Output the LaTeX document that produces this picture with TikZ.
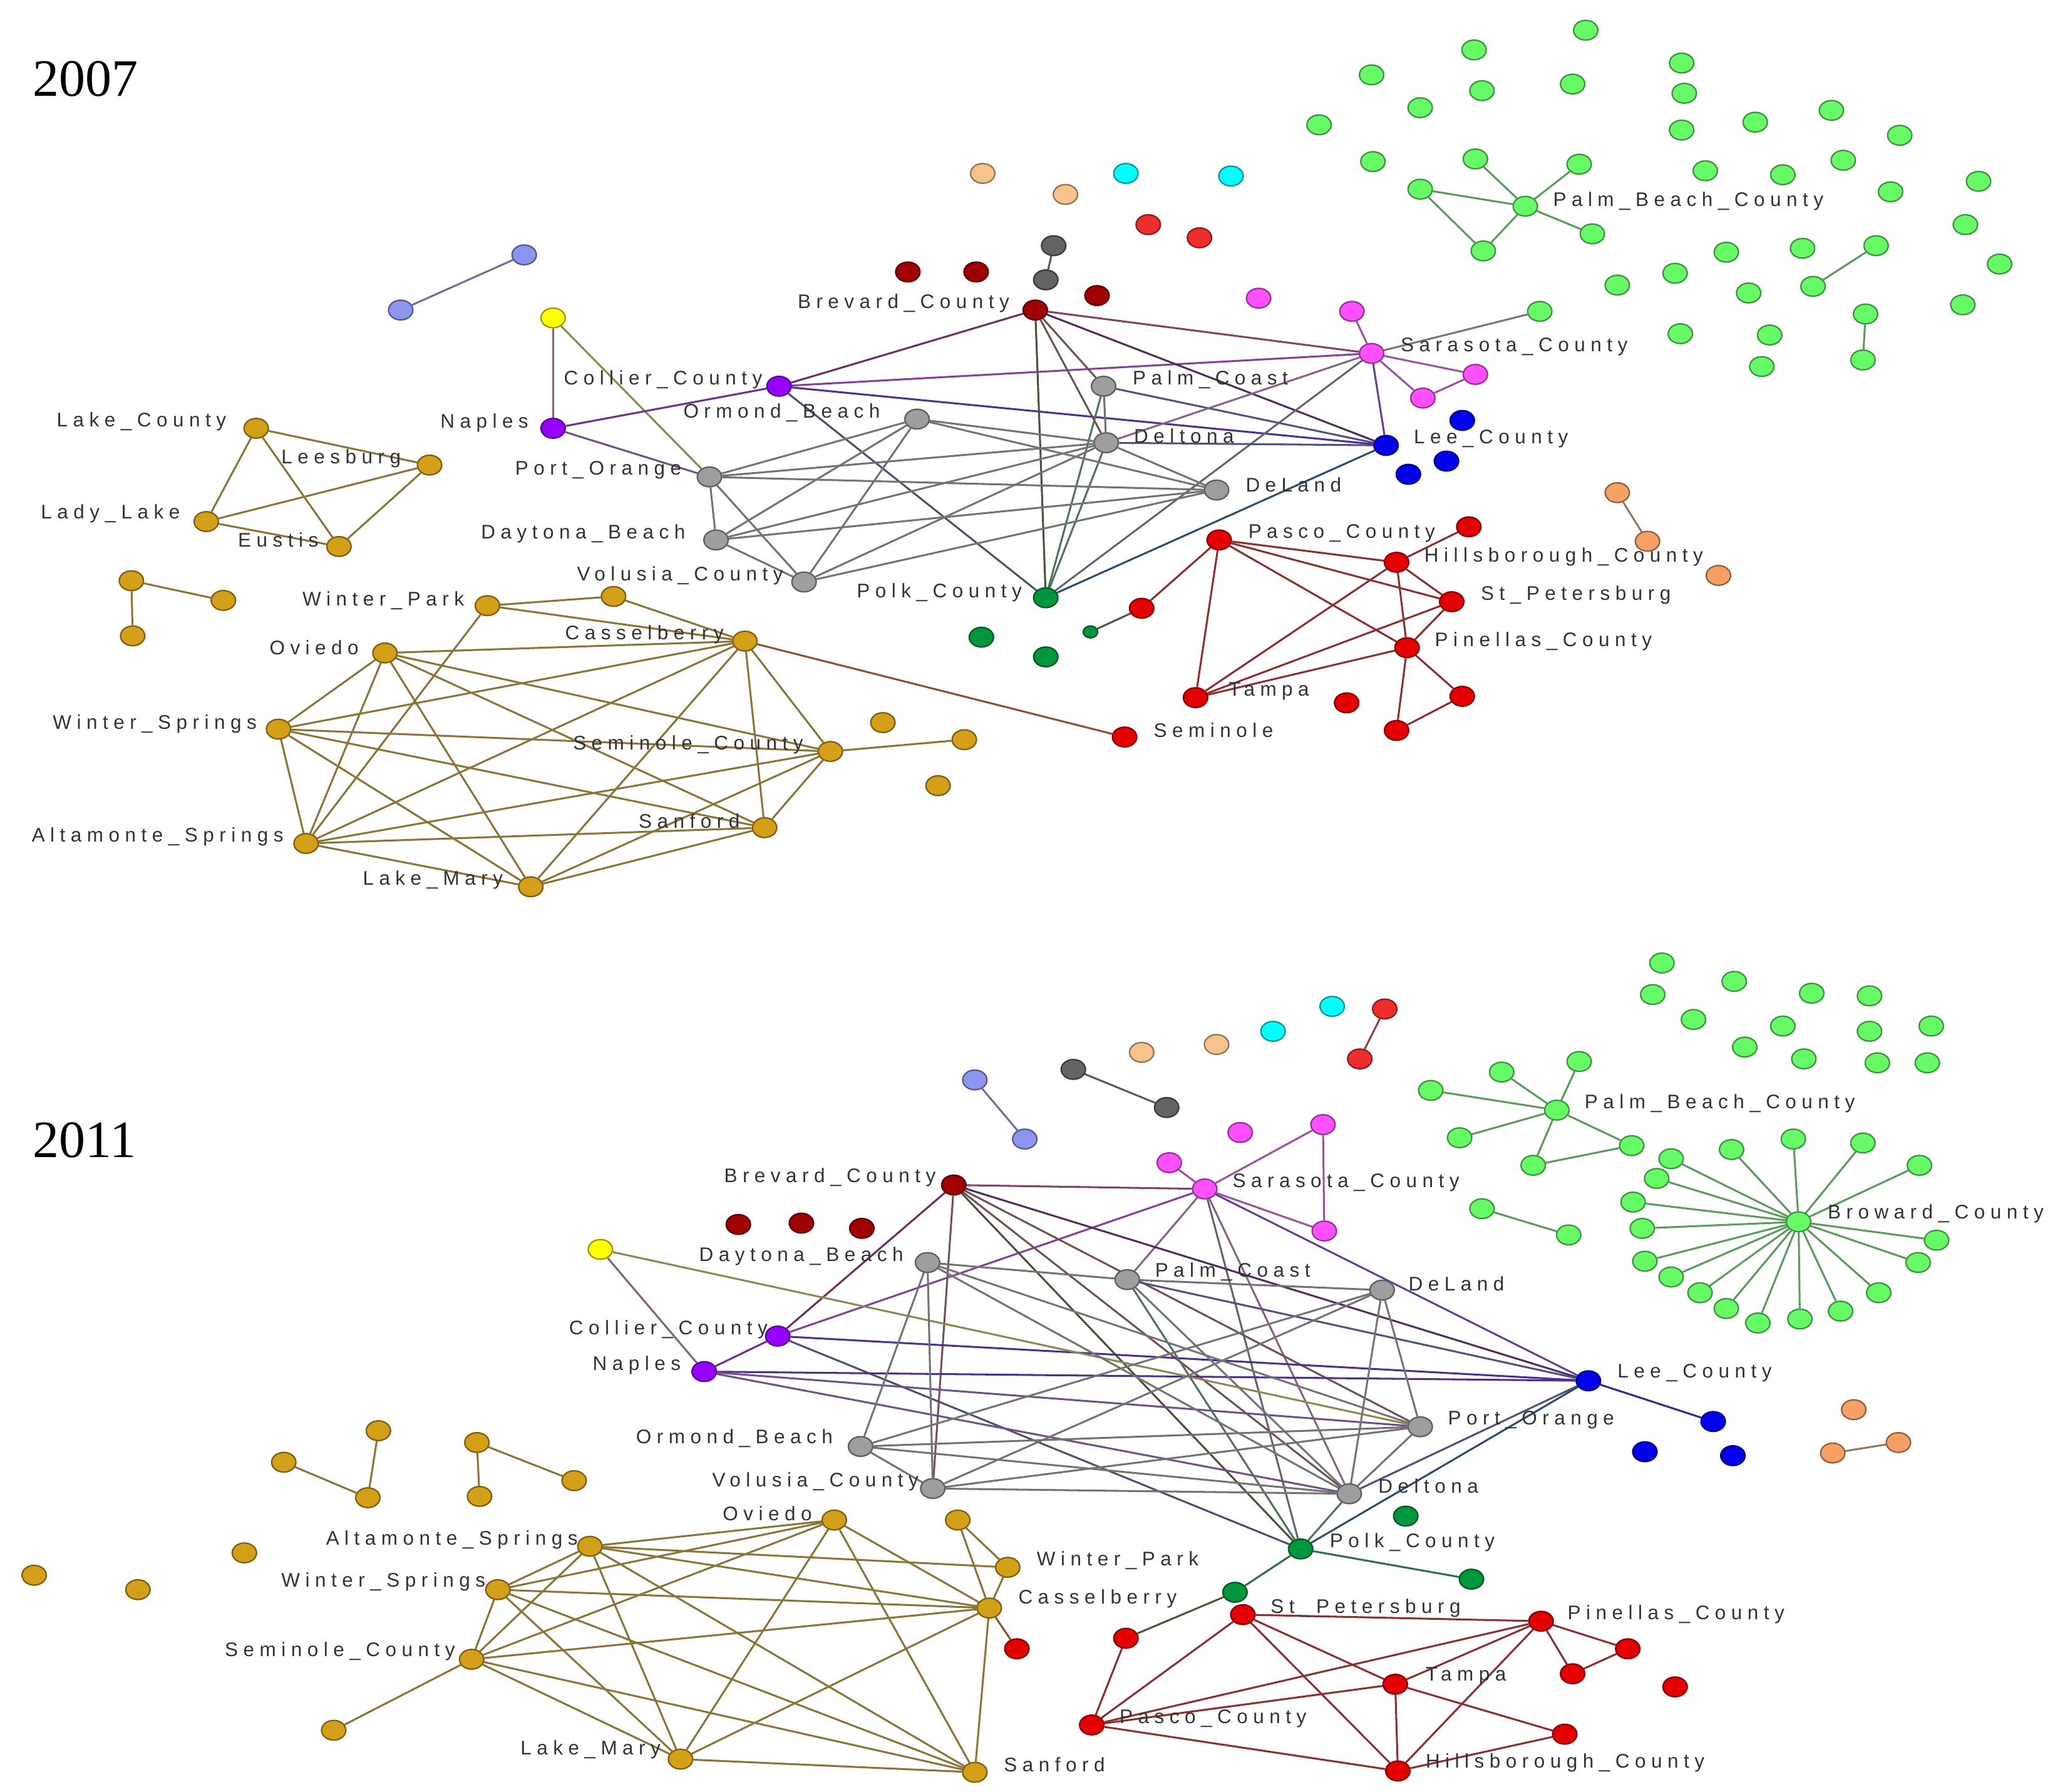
\documentclass[tikz,border=0pt]{standalone}
\usepackage{fontspec}
\usetikzlibrary{shapes.geometric}
\newfontfamily\lblfont[LetterSpace=27]{Liberation Sans}
\newfontfamily\ttlfont{Liberation Serif}
\definecolor{cLG}{RGB}{102,250,102}
\definecolor{cGold}{RGB}{212,160,23}
\definecolor{cGray}{RGB}{158,158,158}
\definecolor{cDGray}{RGB}{100,100,100}
\definecolor{cMaroon}{RGB}{160,0,0}
\definecolor{cRed}{RGB}{228,0,0}
\definecolor{cBRed}{RGB}{240,45,45}
\definecolor{cMag}{RGB}{255,80,255}
\definecolor{cPurp}{RGB}{150,0,255}
\definecolor{cBlue}{RGB}{0,0,235}
\definecolor{cYel}{RGB}{255,255,0}
\definecolor{cLav}{RGB}{140,150,240}
\definecolor{cPeach}{RGB}{245,195,140}
\definecolor{cCyan}{RGB}{0,255,255}
\definecolor{cSalm}{RGB}{245,160,100}
\definecolor{cDGreen}{RGB}{0,150,60}
\definecolor{cEB}{RGB}{80,80,80}
\pgfdeclarelayer{bglayer}
\pgfdeclarelayer{edgelayer}
\pgfsetlayers{bglayer,edgelayer,main}
\tikzset{
  vtx/.style={shape=ellipse, minimum width=18.5pt, minimum height=15pt, inner sep=0pt,
    fill=#1, draw=#1!60!black, line width=1.1pt},
  edge/.style={line width=1.45pt},
  lbl/.style={anchor=west, inner sep=0pt, text=black!80,
    font=\lblfont\fontsize{15}{17}\selectfont},
  ttl/.style={anchor=west, inner sep=0pt, text=black,
    font=\ttlfont\fontsize{40}{44}\selectfont},
}
\newcommand\nd[4]{\expandafter\gdef\csname nc#1\endcsname{#4}\node[vtx=#4] (#1) at (#2,#3) {};}
\newcommand\lk[2]{\edef\tmplk{\noexpand\colorlet{edgecol}{\csname nc#1\endcsname!50!\csname nc#2\endcsname!45!cEB}}\tmplk
  \draw[edge,draw=edgecol] (#1) -- (#2);}
\newcommand\lb[4]{\node[lbl] (#1) at (#2,#3) {#4};}
\begin{document}
\begin{tikzpicture}[x=1pt,y=-1pt]
\begin{pgfonlayer}{bglayer}
\fill[white] (0,0) rectangle (1568,1364);
\end{pgfonlayer}
\useasboundingbox (0,0) rectangle (1568,1364);
\node[ttl] (t07) at (25,60) {2007};
\node[ttl] (t11) at (25,868) {2011};
% ================= 2007 nodes =================
\nd{aG1}{1207}{23}{cLG}\nd{aG2}{1122}{38}{cLG}\nd{aG3}{1280}{48}{cLG}\nd{aG4}{1044}{57}{cLG}
\nd{aG5}{1197}{64}{cLG}\nd{aG6}{1128}{69}{cLG}\nd{aG7}{1282}{71}{cLG}\nd{aG8}{1081}{82}{cLG}
\nd{aG9}{1004}{95}{cLG}\nd{aG10}{1280}{99}{cLG}\nd{aG11}{1336}{93}{cLG}\nd{aG12}{1394}{84}{cLG}
\nd{aG13}{1446}{103}{cLG}\nd{aG14}{1045}{123}{cLG}\nd{aG15}{1123}{121}{cLG}\nd{aG16}{1202}{125}{cLG}
\nd{aG17}{1298}{130}{cLG}\nd{aG18}{1357}{133}{cLG}\nd{aG19}{1403}{122}{cLG}\nd{aG20}{1506}{138}{cLG}
\nd{aG21}{1081}{144}{cLG}\nd{aPBC}{1161}{157}{cLG}\nd{aG23}{1439}{146}{cLG}\nd{aG24}{1212}{178}{cLG}
\nd{aG25}{1129}{191}{cLG}\nd{aG26}{1496}{171}{cLG}\nd{aG27}{1314}{192}{cLG}\nd{aG28}{1372}{189}{cLG}
\nd{aG29}{1428}{187}{cLG}\nd{aG30}{1275}{208}{cLG}\nd{aG31}{1231}{217}{cLG}\nd{aG32}{1331}{223}{cLG}
\nd{aG33}{1380}{218}{cLG}\nd{aG34}{1522}{201}{cLG}\nd{aG35}{1172}{237}{cLG}\nd{aG36}{1420}{239}{cLG}
\nd{aG37}{1494}{232}{cLG}\nd{aG38}{1279}{254}{cLG}\nd{aG39}{1347}{255}{cLG}\nd{aG40}{1418}{274}{cLG}
\nd{aG41}{1341}{279}{cLG}
\nd{aPe1}{748}{132}{cPeach}\nd{aPe2}{811}{148}{cPeach}
\nd{aCy1}{857}{132}{cCyan}\nd{aCy2}{937}{134}{cCyan}
\nd{aBR1}{874}{171}{cBRed}\nd{aBR2}{913}{181}{cBRed}
\nd{aDG1}{802}{187}{cDGray}\nd{aDG2}{796}{213}{cDGray}
\nd{aM1}{691}{207}{cMaroon}\nd{aM2}{743}{207}{cMaroon}\nd{aM3}{835}{225}{cMaroon}
\nd{aLv1}{399}{194}{cLav}\nd{aLv2}{305}{236}{cLav}
\nd{aYel}{421}{242}{cYel}
\nd{aBrev}{788}{236}{cMaroon}
\nd{aMg1}{958}{227}{cMag}\nd{aMg2}{1029}{237}{cMag}\nd{aSar}{1044}{269}{cMag}
\nd{aMg3}{1123}{285}{cMag}\nd{aMg4}{1083}{303}{cMag}
\nd{aCol}{593}{294}{cPurp}\nd{aNap}{421}{326}{cPurp}
\nd{aPC}{840}{294}{cGray}\nd{aOB}{698}{319}{cGray}\nd{aDelt}{842}{337}{cGray}
\nd{aPO}{540}{363}{cGray}\nd{aDeL}{926}{373}{cGray}\nd{aDB}{545}{411}{cGray}\nd{aVol}{612}{443}{cGray}
\nd{aLee}{1055}{339}{cBlue}\nd{aBl1}{1113}{320}{cBlue}\nd{aBl2}{1101}{351}{cBlue}\nd{aBl3}{1072}{361}{cBlue}
\nd{aPolk}{796}{455}{cDGreen}\nd{aGr1}{747}{485}{cDGreen}\nd{aGr2}{796}{500}{cDGreen}
\expandafter\gdef\csname ncaTG\endcsname{cDGreen}
\node[vtx=cDGreen, minimum width=11pt, minimum height=9pt] (aTG) at (830,481) {};
\nd{aPasco}{928}{411}{cRed}\nd{aR1}{1118}{401}{cRed}\nd{aHill}{1063}{428}{cRed}\nd{aStP}{1105}{458}{cRed}
\nd{aPin}{1071}{493}{cRed}\nd{aTam}{910}{531}{cRed}\nd{aR2}{1025}{535}{cRed}\nd{aR3}{1113}{530}{cRed}
\nd{aR4}{1063}{556}{cRed}\nd{aSem}{856}{561}{cRed}\nd{aR5}{869}{463}{cRed}
\nd{aSa1}{1231}{375}{cSalm}\nd{aSa2}{1254}{412}{cSalm}\nd{aSa3}{1308}{438}{cSalm}
\nd{aLC}{195}{326}{cGold}\nd{aLees}{327}{354}{cGold}\nd{aLL}{157}{397}{cGold}\nd{aEus}{258}{416}{cGold}
\nd{aGo1}{100}{442}{cGold}\nd{aGo2}{170}{457}{cGold}\nd{aGo3}{101}{484}{cGold}
\nd{aWP}{371}{461}{cGold}\nd{aWP2}{467}{454}{cGold}\nd{aOv}{293}{497}{cGold}\nd{aCas}{567}{488}{cGold}
\nd{aWS}{212}{555}{cGold}\nd{aSC}{632}{572}{cGold}\nd{aGo4}{672}{550}{cGold}\nd{aGo5}{734}{563}{cGold}
\nd{aGo6}{714}{598}{cGold}\nd{aAS}{233}{642}{cGold}\nd{aSan}{582}{630}{cGold}\nd{aLM}{404}{675}{cGold}
% ================= 2011 nodes =================
\nd{bG1}{1265}{733}{cLG}\nd{bG2}{1320}{747}{cLG}\nd{bG3}{1258}{757}{cLG}\nd{bG4}{1379}{756}{cLG}
\nd{bG5}{1423}{758}{cLG}\nd{bG6}{1289}{776}{cLG}\nd{bG7}{1357}{781}{cLG}\nd{bG8}{1423}{785}{cLG}
\nd{bG9}{1470}{781}{cLG}\nd{bG10}{1328}{797}{cLG}\nd{bG11}{1373}{806}{cLG}\nd{bG12}{1429}{809}{cLG}
\nd{bG13}{1467}{809}{cLG}
\nd{bPBC}{1185}{845}{cLG}\nd{bP1}{1202}{808}{cLG}\nd{bP2}{1143}{816}{cLG}\nd{bP3}{1089}{830}{cLG}
\nd{bP4}{1111}{866}{cLG}\nd{bP5}{1242}{872}{cLG}\nd{bP6}{1167}{887}{cLG}
\nd{bQ1}{1128}{920}{cLG}\nd{bQ2}{1194}{940}{cLG}
\nd{bBC}{1369}{930}{cLG}
\nd{bB1}{1272}{882}{cLG}\nd{bB2}{1318}{875}{cLG}\nd{bB3}{1365}{867}{cLG}\nd{bB4}{1418}{870}{cLG}
\nd{bB5}{1461}{887}{cLG}\nd{bB6}{1261}{897}{cLG}\nd{bB7}{1243}{915}{cLG}\nd{bB8}{1250}{935}{cLG}
\nd{bB9}{1474}{944}{cLG}\nd{bB10}{1252}{960}{cLG}\nd{bB11}{1460}{961}{cLG}\nd{bB12}{1272}{972}{cLG}
\nd{bB13}{1294}{984}{cLG}\nd{bB14}{1430}{984}{cLG}\nd{bB15}{1314}{996}{cLG}\nd{bB16}{1401}{998}{cLG}
\nd{bB17}{1338}{1007}{cLG}\nd{bB18}{1370}{1004}{cLG}
\nd{bLv1}{742}{822}{cLav}\nd{bLv2}{780}{867}{cLav}
\nd{bDG1}{817}{814}{cDGray}\nd{bDG2}{888}{843}{cDGray}
\nd{bPe1}{869}{801}{cPeach}\nd{bPe2}{926}{795}{cPeach}
\nd{bCy1}{969}{785}{cCyan}\nd{bCy2}{1014}{766}{cCyan}
\nd{bBR1}{1054}{768}{cBRed}\nd{bBR2}{1035}{806}{cBRed}
\nd{bMg1}{944}{862}{cMag}\nd{bMgT}{1007}{856}{cMag}\nd{bMgL}{890}{885}{cMag}
\nd{bSar}{917}{905}{cMag}\nd{bMgB}{1008}{937}{cMag}
\nd{bBrev}{726}{902}{cMaroon}
\nd{bM1}{562}{932}{cMaroon}\nd{bM2}{610}{931}{cMaroon}\nd{bM3}{656}{935}{cMaroon}
\nd{bYel}{457}{951}{cYel}
\nd{bDB}{706}{961}{cGray}\nd{bPC}{858}{974}{cGray}\nd{bDeL}{1052}{982}{cGray}
\nd{bPO}{1081}{1086}{cGray}\nd{bOB}{655}{1101}{cGray}\nd{bVol}{710}{1133}{cGray}\nd{bDelt}{1027}{1137}{cGray}
\nd{bCol}{592}{1017}{cPurp}\nd{bNap}{536}{1044}{cPurp}
\nd{bLee}{1209}{1051}{cBlue}\nd{bBl1}{1304}{1082}{cBlue}\nd{bBl2}{1252}{1105}{cBlue}\nd{bBl3}{1319}{1108}{cBlue}
\nd{bSa1}{1411}{1073}{cSalm}\nd{bSa2}{1395}{1106}{cSalm}\nd{bSa3}{1445}{1098}{cSalm}
\nd{bGi}{1070}{1154}{cDGreen}\nd{bPolk}{990}{1179}{cDGreen}\nd{bGr}{1120}{1202}{cDGreen}\nd{bGs}{940}{1212}{cDGreen}
\nd{bStP}{946}{1229}{cRed}\nd{bR1}{857}{1247}{cRed}\nd{bR2}{774}{1255}{cRed}\nd{bPin}{1173}{1234}{cRed}
\nd{bR3}{1239}{1255}{cRed}\nd{bR4}{1197}{1274}{cRed}\nd{bR5}{1275}{1284}{cRed}\nd{bTam}{1062}{1282}{cRed}
\nd{bPasco}{831}{1313}{cRed}\nd{bR6}{1191}{1320}{cRed}\nd{bHill}{1064}{1348}{cRed}
\nd{bgA}{288}{1089}{cGold}\nd{bgC}{216}{1113}{cGold}\nd{bgB}{280}{1140}{cGold}\nd{bgD}{363}{1098}{cGold}
\nd{bgE}{365}{1139}{cGold}\nd{bgF}{437}{1127}{cGold}\nd{bgG}{186}{1182}{cGold}\nd{bgH}{26}{1199}{cGold}
\nd{bgI}{105}{1210}{cGold}\nd{bAS}{449}{1177}{cGold}\nd{bOv}{635}{1157}{cGold}\nd{bgT}{729}{1157}{cGold}
\nd{bWP}{767}{1193}{cGold}\nd{bWS}{379}{1210}{cGold}\nd{bCas}{753}{1224}{cGold}\nd{bSC}{359}{1263}{cGold}
\nd{bgL}{254}{1317}{cGold}\nd{bLM}{518}{1339}{cGold}\nd{bSan}{742}{1349}{cGold}
% ================= edges =================
\begin{pgfonlayer}{edgelayer}
% 2007
\lk{aPBC}{aG15}\lk{aPBC}{aG16}\lk{aPBC}{aG21}\lk{aPBC}{aG24}\lk{aPBC}{aG25}\lk{aG21}{aG25}
\lk{aG33}{aG29}\lk{aG36}{aG40}
\lk{aLv1}{aLv2}\lk{aDG1}{aDG2}\lk{aSa1}{aSa2}\lk{aR5}{aTG}
\lk{aYel}{aNap}\lk{aYel}{aPO}
\lk{aNap}{aCol}\lk{aNap}{aPO}\lk{aCol}{aBrev}\lk{aCol}{aSar}\lk{aCol}{aLee}\lk{aCol}{aPolk}
\lk{aBrev}{aSar}\lk{aBrev}{aPolk}\lk{aBrev}{aPC}\lk{aBrev}{aDelt}\lk{aBrev}{aLee}
\lk{aPolk}{aPC}\lk{aPolk}{aDelt}\lk{aPolk}{aSar}\lk{aPolk}{aLee}
\lk{aPC}{aDelt}\lk{aPC}{aLee}
\lk{aDelt}{aLee}\lk{aDelt}{aSar}\lk{aDelt}{aDeL}
\lk{aSar}{aLee}\lk{aSar}{aMg2}\lk{aSar}{aMg3}\lk{aSar}{aMg4}\lk{aMg3}{aMg4}\lk{aSar}{aG35}
\lk{aOB}{aPO}\lk{aOB}{aDB}\lk{aOB}{aVol}\lk{aOB}{aDelt}\lk{aOB}{aDeL}
\lk{aPO}{aDB}\lk{aPO}{aVol}\lk{aPO}{aDelt}\lk{aPO}{aDeL}
\lk{aDB}{aVol}\lk{aDB}{aDelt}\lk{aDB}{aDeL}\lk{aVol}{aDelt}\lk{aVol}{aDeL}
\lk{aPasco}{aR5}\lk{aPasco}{aTam}\lk{aPasco}{aHill}\lk{aPasco}{aStP}\lk{aPasco}{aPin}
\lk{aR1}{aHill}\lk{aHill}{aStP}\lk{aHill}{aPin}\lk{aHill}{aTam}\lk{aStP}{aPin}\lk{aStP}{aTam}
\lk{aPin}{aTam}\lk{aPin}{aR3}\lk{aPin}{aR4}\lk{aR3}{aR4}
\lk{aCas}{aSem}
\lk{aGo1}{aGo2}\lk{aGo1}{aGo3}
\lk{aLC}{aLees}\lk{aLC}{aLL}\lk{aLC}{aEus}\lk{aLL}{aLees}\lk{aLL}{aEus}\lk{aLees}{aEus}
\lk{aWP}{aWP2}\lk{aWP}{aCas}\lk{aWP2}{aCas}\lk{aWP}{aAS}
\lk{aOv}{aCas}\lk{aOv}{aWS}\lk{aOv}{aAS}\lk{aOv}{aLM}\lk{aOv}{aSC}\lk{aOv}{aSan}
\lk{aWS}{aCas}\lk{aWS}{aSC}\lk{aWS}{aSan}\lk{aWS}{aAS}\lk{aWS}{aLM}
\lk{aAS}{aCas}\lk{aAS}{aSC}\lk{aAS}{aSan}\lk{aAS}{aLM}
\lk{aLM}{aCas}\lk{aLM}{aSC}\lk{aLM}{aSan}
\lk{aCas}{aSan}\lk{aCas}{aSC}\lk{aSC}{aSan}\lk{aSC}{aGo5}
% 2011
\lk{bPBC}{bP1}\lk{bPBC}{bP2}\lk{bPBC}{bP3}\lk{bPBC}{bP4}\lk{bPBC}{bP5}\lk{bPBC}{bP6}\lk{bP6}{bP5}
\lk{bQ1}{bQ2}
\lk{bBC}{bB1}\lk{bBC}{bB2}\lk{bBC}{bB3}\lk{bBC}{bB4}\lk{bBC}{bB5}\lk{bBC}{bB6}
\lk{bBC}{bB7}\lk{bBC}{bB8}\lk{bBC}{bB9}\lk{bBC}{bB10}\lk{bBC}{bB11}\lk{bBC}{bB12}
\lk{bBC}{bB13}\lk{bBC}{bB14}\lk{bBC}{bB15}\lk{bBC}{bB16}\lk{bBC}{bB17}\lk{bBC}{bB18}
\lk{bLv1}{bLv2}\lk{bDG1}{bDG2}\lk{bBR1}{bBR2}\lk{bSa2}{bSa3}
\lk{bSar}{bMgL}\lk{bSar}{bMgT}\lk{bMgT}{bMgB}\lk{bSar}{bMgB}
\lk{bSar}{bBrev}\lk{bSar}{bCol}\lk{bSar}{bPC}\lk{bSar}{bPolk}\lk{bSar}{bDelt}\lk{bSar}{bLee}
\lk{bBrev}{bCol}\lk{bBrev}{bVol}\lk{bBrev}{bPolk}\lk{bBrev}{bDelt}\lk{bBrev}{bPO}\lk{bBrev}{bLee}
\lk{bCol}{bNap}\lk{bCol}{bLee}\lk{bCol}{bPolk}
\lk{bNap}{bYel}\lk{bNap}{bLee}\lk{bNap}{bPO}\lk{bNap}{bDelt}
\lk{bYel}{bPO}
\lk{bPC}{bDB}\lk{bPC}{bDeL}\lk{bPC}{bLee}\lk{bPC}{bPolk}\lk{bPC}{bDelt}
\lk{bDB}{bVol}\lk{bDB}{bOB}\lk{bDB}{bDelt}\lk{bDB}{bPO}
\lk{bDeL}{bDelt}\lk{bDeL}{bPO}\lk{bDeL}{bVol}\lk{bDeL}{bOB}
\lk{bOB}{bVol}\lk{bOB}{bPO}\lk{bOB}{bDelt}\lk{bVol}{bDelt}\lk{bVol}{bPO}\lk{bPO}{bDelt}
\lk{bLee}{bDelt}\lk{bLee}{bPolk}\lk{bLee}{bBl1}
\lk{bPolk}{bDelt}\lk{bPolk}{bGr}\lk{bPolk}{bGs}\lk{bGs}{bR1}
\lk{bR1}{bPasco}\lk{bStP}{bPasco}\lk{bStP}{bPin}\lk{bStP}{bTam}\lk{bStP}{bHill}
\lk{bPin}{bPasco}\lk{bPin}{bTam}\lk{bPin}{bHill}\lk{bPin}{bR3}\lk{bPin}{bR4}\lk{bR4}{bR3}
\lk{bTam}{bPasco}\lk{bTam}{bHill}\lk{bTam}{bR6}\lk{bPasco}{bHill}\lk{bHill}{bR6}
\lk{bCas}{bR2}
\lk{bgA}{bgB}\lk{bgC}{bgB}\lk{bgD}{bgE}\lk{bgD}{bgF}
\lk{bAS}{bOv}\lk{bAS}{bWS}\lk{bAS}{bSC}\lk{bAS}{bLM}\lk{bAS}{bWP}\lk{bAS}{bCas}\lk{bAS}{bSan}
\lk{bOv}{bWS}\lk{bOv}{bSC}\lk{bOv}{bLM}\lk{bOv}{bCas}\lk{bOv}{bSan}
\lk{bWS}{bCas}\lk{bWS}{bSC}\lk{bWS}{bLM}\lk{bWS}{bSan}
\lk{bSC}{bCas}\lk{bSC}{bLM}\lk{bSC}{bSan}\lk{bSC}{bgL}
\lk{bLM}{bCas}\lk{bLM}{bSan}\lk{bCas}{bSan}\lk{bCas}{bgT}\lk{bCas}{bWP}\lk{bgT}{bWP}
\end{pgfonlayer}
% ================= labels 2007 =================
\lb{la1}{607}{231}{Brevard\_County}
\lb{la2}{429}{289}{Collier\_County}
\lb{la3}{862}{289}{Palm\_Coast}
\lb{la4}{520}{314}{Ormond\_Beach}
\lb{la5}{335}{322}{Naples}
\lb{la6}{863}{332}{Deltona}
\lb{la7}{1076}{334}{Lee\_County}
\lb{la8}{1066}{264}{Sarasota\_County}
\lb{la9}{1182}{153}{Palm\_Beach\_County}
\lb{la10}{392}{358}{Port\_Orange}
\lb{la11}{948}{369}{DeLand}
\lb{la12}{366}{406}{Daytona\_Beach}
\lb{la13}{439}{438}{Volusia\_County}
\lb{la14}{652}{451}{Polk\_County}
\lb{la15}{950}{406}{Pasco\_County}
\lb{la16}{1084}{424}{Hillsborough\_County}
\lb{la17}{1127}{453}{St\_Petersburg}
\lb{la18}{1092}{488}{Pinellas\_County}
\lb{la19}{935}{526}{Tampa}
\lb{la20}{878}{556}{Seminole}
\lb{la21}{43}{321}{Lake\_County}
\lb{la22}{214}{349}{Leesburg}
\lb{la23}{31}{391}{Lady\_Lake}
\lb{la24}{181}{411}{Eustis}
\lb{la25}{230}{457}{Winter\_Park}
\lb{la26}{205}{493}{Oviedo}
\lb{la27}{430}{483}{Casselberry}
\lb{la28}{40}{551}{Winter\_Springs}
\lb{la29}{436}{567}{Seminole\_County}
\lb{la30}{486}{625}{Sanford}
\lb{la31}{24}{637}{Altamonte\_Springs}
\lb{la32}{276}{670}{Lake\_Mary}
% ================= labels 2011 =================
\lb{lb1}{1206}{840}{Palm\_Beach\_County}
\lb{lb2}{1391}{924}{Broward\_County}
\lb{lb3}{551}{896}{Brevard\_County}
\lb{lb4}{938}{900}{Sarasota\_County}
\lb{lb5}{532}{956}{Daytona\_Beach}
\lb{lb6}{879}{968}{Palm\_Coast}
\lb{lb7}{1072}{977}{DeLand}
\lb{lb8}{433}{1012}{Collier\_County}
\lb{lb9}{451}{1039}{Naples}
\lb{lb10}{1231}{1045}{Lee\_County}
\lb{lb11}{1102}{1081}{Port\_Orange}
\lb{lb12}{484}{1095}{Ormond\_Beach}
\lb{lb13}{542}{1128}{Volusia\_County}
\lb{lb14}{1049}{1131}{Deltona}
\lb{lb15}{248}{1172}{Altamonte\_Springs}
\lb{lb16}{550}{1152}{Oviedo}
\lb{lb17}{1012}{1174}{Polk\_County}
\lb{lb18}{789}{1188}{Winter\_Park}
\lb{lb19}{214}{1204}{Winter\_Springs}
\lb{lb20}{775}{1217}{Casselberry}
\lb{lb21}{967}{1224}{St\_Petersburg}
\lb{lb22}{1193}{1229}{Pinellas\_County}
\lb{lb23}{171}{1257}{Seminole\_County}
\lb{lb24}{1085}{1276}{Tampa}
\lb{lb25}{852}{1308}{Pasco\_County}
\lb{lb26}{396}{1332}{Lake\_Mary}
\lb{lb27}{764}{1343}{Sanford}
\lb{lb28}{1085}{1342}{Hillsborough\_County}
\end{tikzpicture}
\end{document}
